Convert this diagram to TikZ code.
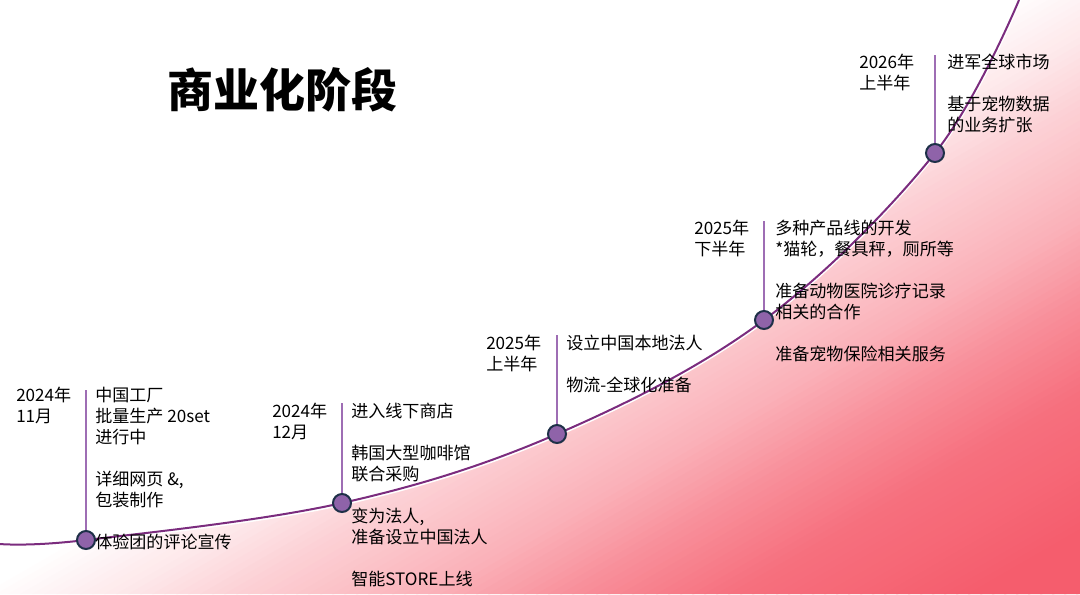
\documentclass[tikz,border=0pt]{standalone}
\usepackage{fontspec}
\setmainfont{Noto Sans CJK SC}
\usetikzlibrary{positioning}
\definecolor{curvepurple}{HTML}{7B2C7E}
\definecolor{stemviolet}{HTML}{9E6DB4}
\definecolor{dotfill}{HTML}{8F63A9}
\definecolor{dotedge}{HTML}{1E3048}
\definecolor{deeppink}{HTML}{F55D6D}

\begin{document}
\begin{tikzpicture}[x=0.75pt, y=-0.75pt,
      dot/.style={circle, draw=dotedge, fill=dotfill, line width=1.5pt,
        minimum size=13.5pt, inner sep=0pt},
      stem/.style={draw=stemviolet, line width=1.5pt},
      txt/.style={anchor=north west, align=left, inner sep=0pt,
        font=\fontsize{12.8pt}{15.75pt}\selectfont},
      headline/.style={font=\fontsize{34.5pt}{40pt}\selectfont\bfseries}
    ]
    \useasboundingbox (0,0) rectangle (1080,594);

    % growth area: diagonal bands from white to pink
    \begin{scope}
      \clip plot[smooth, tension=0.6] coordinates {(0,544) (86,540) (342,503) (557,434) (764,320) (935,153) (1019,0)}
        -- (1080,0) -- (1080,594) -- (0,594) -- cycle;
      \foreach \t in {940,952,...,2116} {
        \pgfmathsetmacro\p{\t<1000 ? 0 : (\t<1150 ? (\t-1000)/150*15 : (\t<1250 ? 15+(\t-1150)/100*13
          : (\t<1450 ? 28+(\t-1250)/200*20 : (\t<1600 ? 48+(\t-1450)/150*22
          : (\t<1750 ? 70+(\t-1600)/150*18 : min(100,88+(\t-1750)/250*12))))))}
        \fill[deeppink!\p] (\t+87,-50) -- (\t+101,-50) -- (\t-1197,700) -- (\t-1211,700) -- cycle;
      }
    \end{scope}
    \draw[white, line width=2.5pt]
      plot[smooth, tension=0.6] coordinates {(0,545) (86,541) (342,504) (557,435) (764,321) (935,154) (1020,0)};
    \draw[curvepurple, line width=1.5pt]
      plot[smooth, tension=0.6] coordinates {(0,544) (86,540) (342,503) (557,434) (764,320) (935,153) (1019,0)};

    \node[headline] (title) at (282,90) {商业化阶段};

    % milestones
    \coordinate (top1) at (86,390);
    \coordinate (top2) at (342,403);
    \coordinate (top3) at (557,335);
    \coordinate (top4) at (764,221);
    \coordinate (top5) at (935,55);

    \draw[stem] (top1) -- (86,540);
    \draw[stem] (top2) -- (342,503);
    \draw[stem] (top3) -- (557,434);
    \draw[stem] (top4) -- (764,320);
    \draw[stem] (top5) -- (935,153);

    \node[dot] (dot1) at (86,540) {};
    \node[dot] (dot2) at (342,503) {};
    \node[dot] (dot3) at (557,434) {};
    \node[dot] (dot4) at (764,320) {};
    \node[dot] (dot5) at (935,153) {};

    \node[txt] (date1) at (16,387) {2024年\\11月};
    \node[txt] (date2) at (272,403) {2024年\\12月};
    \node[txt] (date3) at (486,335) {2025年\\上半年};
    \node[txt] (date4) at (694,220) {2025年\\下半年};
    \node[txt] (date5) at (859,54) {2026年\\上半年};

    \node[txt] (info1) at (95,387) {中国工厂\\批量生产 20set\\进行中\\[15.75pt]详细网页 \&,\\包装制作\\[15.75pt]体验团的评论宣传};
    \node[txt] (info2) at (351,403) {进入线下商店\\[15.75pt]韩国大型咖啡馆\\联合采购\\[15.75pt]变为法人,\\准备设立中国法人\\[15.75pt]智能STORE上线};
    \node[txt] (info3) at (566,335) {设立中国本地法人\\[15.75pt]物流-全球化准备};
    \node[txt] (info4) at (775,220) {多种产品线的开发\\*猫轮，餐具秤，厕所等\\[15.75pt]准备动物医院诊疗记录\\相关的合作\\[15.75pt]准备宠物保险相关服务};
    \node[txt] (info5) at (947,54) {进军全球市场\\[15.75pt]基于宠物数据\\的业务扩张};
  \end{tikzpicture}
\end{document}
